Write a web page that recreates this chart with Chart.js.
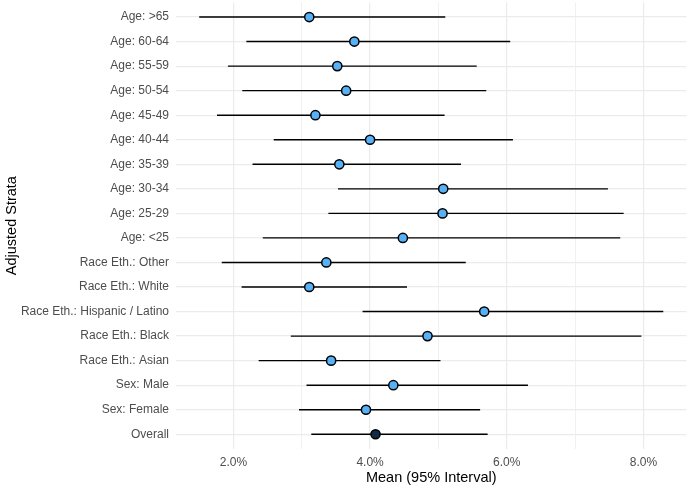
<!DOCTYPE html>
<html>
<head>
<meta charset="utf-8">
<script src="https://cdn.jsdelivr.net/npm/chart.js@4.4.1/dist/chart.umd.min.js"></script>
<style>
  html, body { margin: 0; padding: 0; background: #fff; }
  #wrap { width: 688px; height: 488px; }
</style>
</head>
<body>
<div id="wrap"><canvas id="forest"></canvas></div>
<script>
// strata, top to bottom as in the plot
const strata = [
    "Age: >65", "Age: 60-64", "Age: 55-59", "Age: 50-54", "Age: 45-49",
    "Age: 40-44", "Age: 35-39", "Age: 30-34", "Age: 25-29", "Age: <25",
    "Race Eth.: Other", "Race Eth.: White", "Race Eth.: Hispanic / Latino",
    "Race Eth.: Black", "Race Eth.: Asian", "Sex: Male", "Sex: Female", "Overall"
];
// values in percent
const meanVals  = [3.11, 3.77, 3.52, 3.65, 3.20, 4.00, 3.55, 5.07, 5.06, 4.48, 3.36, 3.11, 5.67, 4.84, 3.43, 4.34, 3.94, 4.08];
const lowerVals = [1.50, 2.19, 1.92, 2.13, 1.76, 2.59, 2.28, 3.53, 3.39, 2.43, 1.83, 2.12, 3.89, 2.84, 2.37, 3.07, 2.96, 3.14];
const upperVals = [5.10, 6.05, 5.56, 5.70, 5.09, 6.09, 5.33, 7.48, 7.71, 7.66, 5.40, 4.54, 8.29, 7.97, 5.03, 6.31, 5.61, 5.72];
const xTicks = [2, 3, 4, 5, 6, 7, 8];

function intervalSegments() {
    let pts = [];
    strata.forEach((s, i) => {
        pts.push({x: lowerVals[i], y: i});
        pts.push({x: upperVals[i], y: i});
        pts.push({x: null, y: null});
    });
    return pts;
}

let lo = Math.min(...lowerVals);
let hi = Math.max(...upperVals);
let pad = (hi - lo) * 0.05;

const font = "'Liberation Sans', Arial, Helvetica, sans-serif";

new Chart(document.getElementById('forest').getContext('2d'), {
    type: 'scatter',
    data: {
        datasets: [{
            label: "Mean",
            data: meanVals.map((m, i) => ({x: m, y: i})),
            pointRadius: 4.6,
            pointBorderWidth: 1.5,
            pointBorderColor: '#000',
            pointBackgroundColor: strata.map(s => s === "Overall" ? '#132B43' : '#56B1F7'),
            showLine: false,
        }, {
            label: "95% Interval",
            type: 'line',
            data: intervalSegments(),
            borderColor: '#000',
            borderWidth: 1.4,
            pointRadius: 0,
            spanGaps: false,
            fill: false,
        }]
    },
    options: {
        responsive: true,
        maintainAspectRatio: false,
        animation: false,
        layout: { autoPadding: false, padding: { top: 2.3, right: 1.5, left: 0, bottom: 0 } },
        plugins: { legend: { display: false }, tooltip: { enabled: false } },
        scales: {
            x: {
                type: 'linear',
                min: lo - pad,
                max: hi + pad,
                afterBuildTicks: (scale) => { scale.ticks = xTicks.map(v => ({value: v})); },
                afterFit: (scale) => {
                    scale.height = 39;
                    scale.paddingLeft = 0;
                    scale.paddingRight = 0;
                },
                border: { display: false },
                grid: {
                    drawTicks: false,
                    color: '#EBEBEB',
                    lineWidth: (ctx) => (ctx.tick && ctx.tick.value % 2 === 0) ? 1.2 : 0.7,
                },
                ticks: {
                    padding: 6,
                    color: '#4D4D4D',
                    font: { family: font, size: 12 },
                    callback: (v) => v % 2 === 0 ? v.toFixed(1) + '%' : '',
                },
                title: {
                    display: true,
                    text: 'Mean (95% Interval)',
                    color: '#000',
                    font: { family: font, size: 14.5, lineHeight: 1.2 },
                    padding: { top: 0, bottom: 1.3 },
                }
            },
            y: {
                type: 'linear',
                reverse: true,
                min: -0.6,
                max: strata.length - 1 + 0.6,
                afterBuildTicks: (scale) => { scale.ticks = strata.map((s, i) => ({value: i})); },
                afterFit: (scale) => {
                    scale.width = 176;
                    scale.paddingTop = 0;
                    scale.paddingBottom = 0;
                },
                border: { display: false },
                grid: { drawTicks: false, color: '#EBEBEB', lineWidth: 1.2 },
                ticks: {
                    padding: 7,
                    color: '#4D4D4D',
                    font: { family: font, size: 12 },
                    callback: (v) => strata[v],
                },
                title: {
                    display: true,
                    text: 'Adjusted Strata',
                    color: '#000',
                    font: { family: font, size: 14.5, lineHeight: 1.2 },
                    padding: { top: 3, bottom: 0 },
                }
            }
        }
    }
});
</script>
</body>
</html>
